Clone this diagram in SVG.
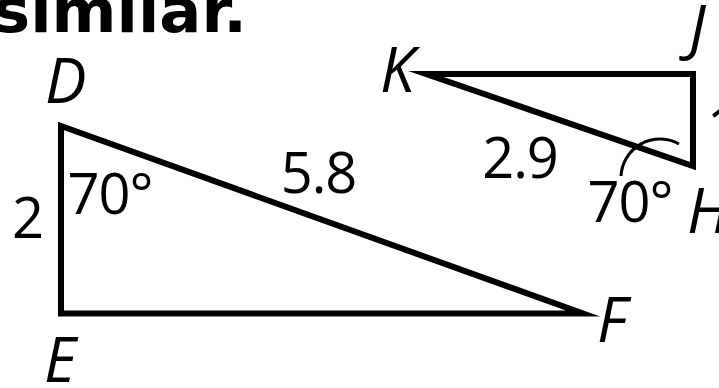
<svg xmlns="http://www.w3.org/2000/svg" width="719" height="388" viewBox="0 0 719 388">
<style>
.tri{fill:none;stroke:#000;stroke-width:6;stroke-linejoin:miter;stroke-miterlimit:10}
.arc{fill:none;stroke:#000;stroke-width:3}
.v{font-family:"Open Sans","Liberation Sans",sans-serif;font-style:italic;font-size:62px;fill:#000}
.n{font-family:"Open Sans","Liberation Sans",sans-serif;font-size:56px;fill:#000;letter-spacing:-1px}
.t{font-family:"DejaVu Sans","Verdana",sans-serif;font-weight:bold;font-size:61px;fill:#000}
</style>
<rect width="719" height="388" fill="#fff"/>
<text class="t" x="-7" y="32" textLength="254" lengthAdjust="spacingAndGlyphs">similar.</text>
<g id="triangle-DEF">
<polygon class="tri" points="61,126 61,313.5 583,313.5"/>
<text class="v" x="45" y="103">D</text>
<text class="v" x="44" y="382">E</text>
<text class="v" x="597" y="342">F</text>
<text class="n" x="27.5" y="238" text-anchor="middle">2</text>
<text class="n" x="110" y="214" text-anchor="middle">70°</text>
<text class="n" x="318.5" y="193" text-anchor="middle">5.8</text>
</g>
<g id="triangle-KJH">
<polygon class="tri" points="426,74 693,74 693,166"/>
<path class="arc" d="M621,176 A39,39 0 0 1 679,144"/>
<text class="v" x="380" y="92">K</text>
<text class="v" x="689" y="50">J</text>
<text class="v" x="687" y="233">H</text>
<text class="n" x="707" y="147">1</text>
<text class="n" x="520" y="178" text-anchor="middle">2.9</text>
<text class="n" x="630" y="222" text-anchor="middle">70°</text>
</g>
</svg>
